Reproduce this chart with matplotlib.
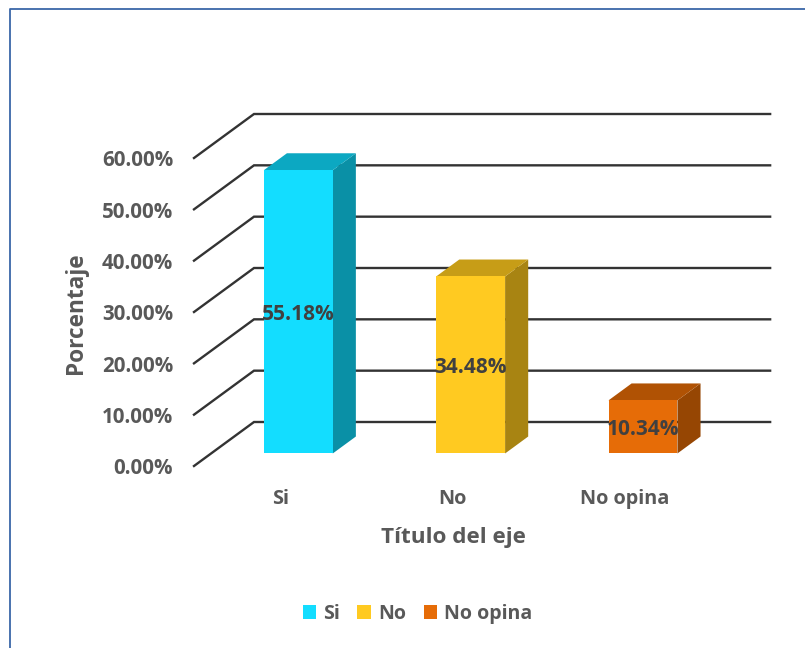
"""
3D style bar chart: Si / No / No opina
"""

import matplotlib
matplotlib.use("Agg")
import matplotlib.pyplot as plt
from matplotlib.patches import Polygon, Rectangle

categories = ["Si", "No", "No opina"]
values = [55.18, 34.48, 10.34]
value_labels = ["55.18%", "34.48%", "10.34%"]
y_ticks = [0, 10, 20, 30, 40, 50, 60]
y_tick_labels = ["0.00%", "10.00%", "20.00%", "30.00%", "40.00%", "50.00%", "60.00%"]

front_colors = ["#13DDFF", "#FFCA21", "#E66C07"]
top_colors = ["#0CA8C2", "#C79D17", "#B05204"]
side_colors = ["#0A90A6", "#A88412", "#964603"]

W, H = 805, 648
plt.rcParams["font.family"] = ["Open Sans", "DejaVu Sans"]
plt.rcParams["font.weight"] = "bold"

fig = plt.figure(figsize=(W / 100, H / 100), dpi=100)

# frame of the chart area
frame = fig.add_axes([0, 0, 1, 1], zorder=0)
frame.set_xlim(0, W)
frame.set_ylim(H, 0)
frame.axis("off")
frame.plot([10, 10, 805], [H, 8.5, 8.5], color="#3A67A8", lw=1.3)

# front plane of the floor, in pixels: x 194-711, y 466-158
ax = fig.add_axes([194 / W, 1 - 466 / H, 517 / W, 308 / H], zorder=1)
ax.set_xlim(-0.5, 2.5)
ax.set_ylim(0, 60)
ax.axis("off")

# full depth of the box, in data units
depth_x = 60 / (517 / 3)
depth_y = 44 / (308 / 60)


def proj(x, y, d):
    return x + d * depth_x, y + d * depth_y


# walls
for t in y_ticks:
    p0 = proj(-0.5, t, 0)
    p1 = proj(-0.5, t, 1)
    p2 = proj(2.495, t, 1)
    ax.plot([p0[0], p1[0], p2[0]], [p0[1], p1[1], p2[1]], color="#333333",
            lw=1.7, clip_on=False, zorder=1, solid_joinstyle="miter")

# bars
bar_w = 0.4
bar_shift = 0.006
d0, d1 = 0.285, 0.67
for i, v in enumerate(values):
    xl, xr = i - bar_w / 2 + bar_shift, i + bar_w / 2 + bar_shift
    front = [proj(xl, 0, d0), proj(xr, 0, d0), proj(xr, v, d0), proj(xl, v, d0)]
    top = [proj(xl, v, d0), proj(xr, v, d0), proj(xr, v, d1), proj(xl, v, d1)]
    side = [proj(xr, 0, d0), proj(xr, 0, d1), proj(xr, v, d1), proj(xr, v, d0)]
    ax.add_patch(Polygon(side, fc=side_colors[i], ec="none", clip_on=False, zorder=2))
    ax.add_patch(Polygon(top, fc=top_colors[i], ec="none", clip_on=False, zorder=2))
    ax.add_patch(Polygon(front, fc=front_colors[i], ec="none", clip_on=False, zorder=3))
    cx, cy = proj(i + bar_shift, v / 2, d0)
    ax.annotate(value_labels[i], (cx, cy), xytext=(0, -3), textcoords="offset pixels",
                ha="center", va="center", fontsize=15, color="#404040", zorder=4,
                annotation_clip=False)

# tick labels
for t, lab in zip(y_ticks, y_tick_labels):
    ax.annotate(lab, (-0.5, t), xytext=(-21, -3), textcoords="offset pixels",
                ha="right", va="center", fontsize=14.8, color="#595959",
                annotation_clip=False)
for i, c in enumerate(categories):
    ax.annotate(c, (i, 0), xytext=(0, -33), textcoords="offset pixels",
                ha="center", va="center", fontsize=14.3, color="#595959",
                annotation_clip=False)

frame.text(76, 313, "Porcentaje", rotation=90, ha="center", va="center",
           fontsize=16.3, color="#595959")
frame.text(453, 538, "Título del eje", ha="center", va="center",
           fontsize=16.2, color="#595959")

# legend
handles = [Rectangle((0, 0), 1, 1, fc=c, ec="none") for c in front_colors]
fig.legend(handles, categories, loc="center", bbox_to_anchor=(417.5 / W, 1 - 614 / H),
           ncol=3, frameon=False, fontsize=14.1, labelcolor="#595959",
           handlelength=0.7, handleheight=0.7, handletextpad=0.35, columnspacing=0.9)

fig.savefig("out.png", dpi=100)
plt.close(fig)
